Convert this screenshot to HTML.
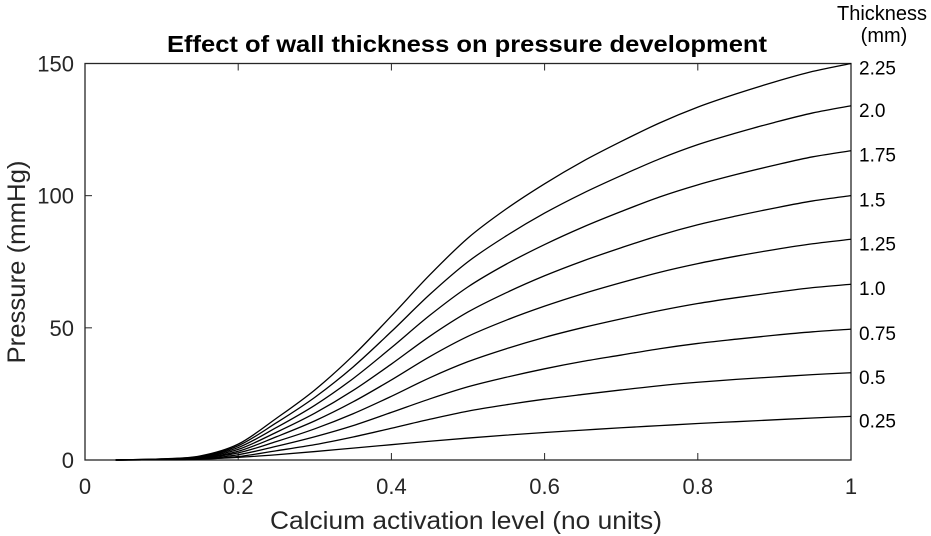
<!DOCTYPE html>
<html><head><meta charset="utf-8"><style>
body{margin:0;background:#fff}
svg{display:block;font-family:"Liberation Sans",Arial,sans-serif}
</style></head><body>
<svg id="chart" width="931" height="536">
<text x="467" y="52" text-anchor="middle" font-size="23" font-weight="bold" fill="#000" textLength="600" lengthAdjust="spacingAndGlyphs">Effect of wall thickness on pressure development</text>
<text x="882" y="20" text-anchor="middle" font-size="20" fill="#000">Thickness</text>
<text x="884" y="42" text-anchor="middle" font-size="20" fill="#000">(mm)</text>
<text x="466" y="529" text-anchor="middle" font-size="25" fill="#262626" textLength="392" lengthAdjust="spacingAndGlyphs">Calcium activation level (no units)</text>
<text transform="translate(25,262) rotate(-90)" text-anchor="middle" font-size="25" fill="#262626" textLength="203" lengthAdjust="spacingAndGlyphs">Pressure (mmHg)</text>
<g id="axes"></g>
<g id="series"></g>
<g id="labels"></g>
</svg>
<script>
const xValues=[0.04,0.1,0.15,0.2,0.25,0.3,0.35,0.4,0.45,0.5,0.55,0.6,0.65,0.7,0.75,0.8,0.85,0.9,0.95,1];
const thicknessLabels=["2.25","2.0","1.75","1.5","1.25","1.0","0.75","0.5","0.25"];
const s225=[0,0.4,1.5,6,15.8,26.5,39.5,54.5,70,84,95,104.5,113,120.5,127.5,133.5,138.5,143,147,150];
const s200=[0,0.4,1.3,5.4,14.1,23.7,35.2,48.6,62.6,75,84.8,93.4,100.9,107.6,113.9,119.3,123.7,127.7,131.3,134];
const s175=[0,0.3,1.2,4.7,12.3,20.7,30.8,42.5,54.7,65.5,74.1,81.5,88.1,94,99.5,104.1,108,111.5,114.7,117];
const s150=[0,0.3,1,4,10.5,17.7,26.3,36.3,46.8,56,63.3,69.7,75.3,80.3,85,89,92.3,95.3,98,100];
const s125=[0,0.2,0.8,3.3,8.8,14.8,22,30.3,39.1,46.8,52.9,58.2,62.9,67.1,71,74.3,77.1,79.6,81.8,83.5];
const s100=[0,0.2,0.7,2.7,7,11.8,17.5,24.1,31.1,37.2,42.1,46.4,50.1,53.4,56.5,59.2,61.4,63.4,65.2,66.5];
const s075=[0,0.1,0.5,2,5.2,8.8,13,18,23.1,27.7,31.3,34.5,37.3,39.7,42.1,44.1,45.7,47.2,48.5,49.5];
const s050=[0,0.1,0.3,1.3,3.5,5.8,8.7,12,15.4,18.5,20.9,23,24.8,26.5,28.1,29.4,30.5,31.4,32.3,33];
const s025=[0,0.1,0.4,1,2,3.2,4.5,5.8,7.1,8.3,9.4,10.4,11.3,12.2,13,13.8,14.5,15.2,15.9,16.5];
const seriesList=[s225,s200,s175,s150,s125,s100,s075,s050,s025];
const xTicks=[0,0.2,0.4,0.6,0.8,1];
const xTickLabels=["0","0.2","0.4","0.6","0.8","1"];
const yTicks=[0,50,100,150];
const yTickLabels=["0","50","100","150"];

const L=85,R=851,T=63.5,B=460;
const sx=v=>L+v*(R-L);
const sy=v=>B-v/150*(B-T);
const NS="http://www.w3.org/2000/svg";
function mk(tag,attrs,parent){const e=document.createElementNS(NS,tag);for(const k in attrs)e.setAttribute(k,attrs[k]);parent.appendChild(e);return e;}
const axes=document.getElementById('axes');
const fr=mk('rect',{x:L,y:T,width:R-L,height:B-T,fill:'none',stroke:'#262626','stroke-width':1.3},axes);


xTicks.forEach((t,i)=>{
  const x=sx(t);
  const a=mk('line',{x1:x,x2:x,y1:B,y2:B-7,stroke:'#262626'},axes);
  
  
  const b=mk('line',{x1:x,x2:x,y1:T,y2:T+7,stroke:'#262626'},axes);
  
  
  const tx=mk('text',{x:x,y:B+34,'text-anchor':'middle','font-size':22,fill:'#262626'},axes);
  tx.textContent=xTickLabels[i];
  
  
});
yTicks.forEach((t,i)=>{
  const y=sy(t);
  const a=mk('line',{x1:L,x2:L+7,y1:y,y2:y,stroke:'#262626'},axes);
  
  
  const tx=mk('text',{x:L-11,y:y+8,'text-anchor':'end','font-size':22,fill:'#262626'},axes);
  tx.textContent=yTickLabels[i];
  
  
});
const sg=document.getElementById('series'),lg=document.getElementById('labels');
function pathFor(vals){
  const p=vals.map((v,i)=>[sx(xValues[i]),sy(v)]);
  const n=p.length;
  let d='M'+p[0][0]+','+p[0][1];
  for(let i=0;i<n-1;i++){
    const p0=p[i-1]||p[i],p1=p[i],p2=p[i+1],p3=p[i+2]||p2;
    const c1=[p1[0]+(p2[0]-p0[0])/6,p1[1]+(p2[1]-p0[1])/6];
    const c2=[p2[0]-(p3[0]-p1[0])/6,p2[1]-(p3[1]-p1[1])/6];
    d+=' C'+c1[0]+','+c1[1]+' '+c2[0]+','+c2[1]+' '+p2[0]+','+p2[1];
  }
  return d;
}
seriesList.forEach((vals,i)=>{
  const pth=mk('path',{d:pathFor(vals),fill:'none',stroke:'#000','stroke-width':1.3},sg);
  
  
  const last=vals[vals.length-1];
  const tx=mk('text',{x:859,y:sy(last)+11,'font-size':19,fill:'#000'},lg);
  tx.textContent=thicknessLabels[i];
  
  
});
</script>
</body></html>
